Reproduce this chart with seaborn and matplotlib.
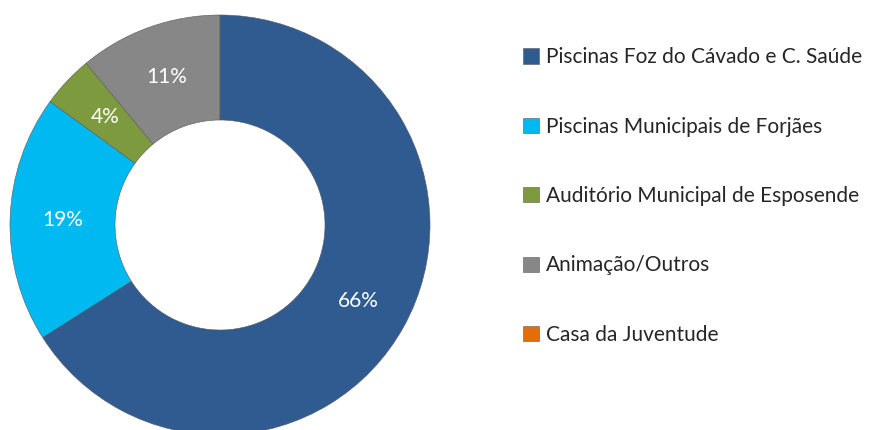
import matplotlib
matplotlib.use("Agg")
import matplotlib.pyplot as plt
import seaborn as sns

# data
categories = ["Piscinas Foz do Cávado e C. Saúde",
              "Piscinas Municipais de Forjães",
              "Auditório Municipal de Esposende",
              "Animação/Outros",
              "Casa da Juventude"]
shares = [66, 19, 4, 11, 0]
colors = ["#2F5B91", "#00B9F1", "#7D9B3E", "#878787", "#E46C0A"]

sns.set_theme(style="white")
plt.rcParams['font.family'] = ['Lato', 'DejaVu Sans']

fig = plt.figure(figsize=(8.81, 4.30), dpi=100)
ax = fig.add_axes([10/881, -5/430, 420/881, 420/430])


def pct(p):
    return f"{p:.0f}%" if p > 0.5 else ""


wedges, texts, autotexts = ax.pie(
    shares, colors=colors, startangle=90, counterclock=False,
    radius=1.0, autopct=pct, pctdistance=0.75,
    wedgeprops=dict(width=0.5, edgecolor="#5a5a5a", linewidth=0.4),
    textprops=dict(color="white", fontsize=15))
ax.set_xlim(-1, 1)
ax.set_ylim(-1, 1)
ax.set_aspect("equal")
ax.axis("off")

fig.legend(wedges, categories, loc="upper left",
           bbox_to_anchor=(515/881, 1 - 39/430), frameon=False,
           fontsize=15, labelspacing=2.37, handlelength=0.75,
           handleheight=0.75, handletextpad=0.35, borderaxespad=0)

fig.savefig("out.png", dpi=100)
